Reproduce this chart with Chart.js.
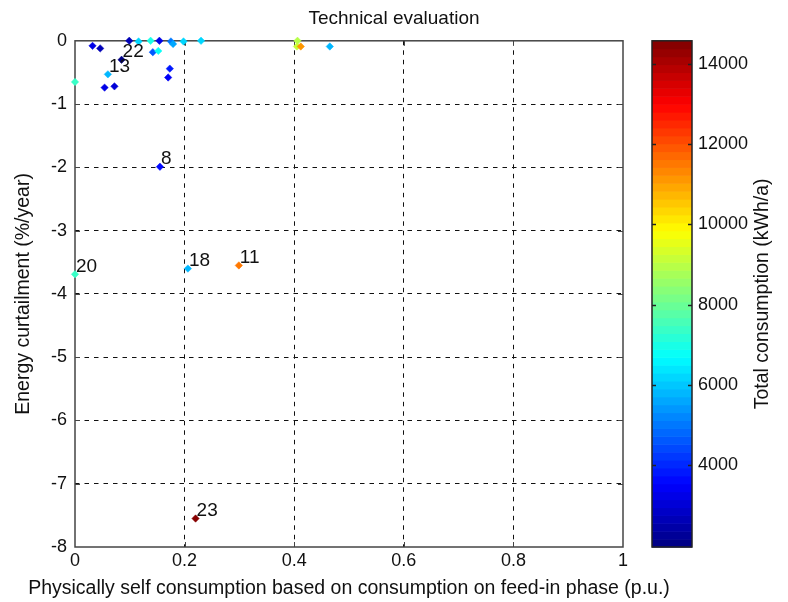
<!DOCTYPE html>
<html><head><meta charset="utf-8">
<script src="https://cdn.jsdelivr.net/npm/chart.js@4/dist/chart.umd.min.js"></script>
<style>html,body{margin:0;padding:0;background:#fff;overflow:hidden}#wrap{width:788px;height:602px;position:relative}</style>
</head><body><div id="wrap"><canvas id="c" width="788" height="602"></canvas></div>
<script>
// Physically self consumption (p.u.)
const selfConsumption = [0.000, 0.032, 0.046, 0.099, 0.116, 0.138, 0.154, 0.175, 0.179, 0.198, 0.230, 0.142, 0.152, 0.085, 0.060, 0.054, 0.072, 0.173, 0.170, 0.406, 0.405, 0.412, 0.465, 0.000, 0.206, 0.299, 0.155, 0.220];
// Energy curtailment (%/year)
const curtailment = [-0.65, -0.08, -0.12, 0.00, -0.01, 0.00, 0.00, -0.01, -0.05, -0.01, 0.00, -0.18, -0.16, -0.30, -0.53, -0.74, -0.72, -0.44, -0.58, 0.00, -0.09, -0.09, -0.09, -3.69, -3.60, -3.55, -1.99, -7.55];
// Total consumption (kWh/a)
const totalConsumption = [7300, 3300, 2700, 2700, 6100, 7000, 3300, 5000, 5700, 6100, 6200, 4600, 6700, 1960, 5900, 3300, 3000, 3800, 3400, 8900, 9100, 11200, 5800, 7400, 5900, 11500, 3600, 14500];
const pointLabels = ['', '', '', '', '', '', '', '', '', '', '', '', '', '22', '13', '', '', '', '', '', '', '', '', '20', '18', '11', '8', '23'];
const xTicks = [0, 0.2, 0.4, 0.6, 0.8, 1];
const yTicks = [-8, -7, -6, -5, -4, -3, -2, -1, 0];
const colorbarTicks = [4000, 6000, 8000, 10000, 12000, 14000];
const colorbarRange = [1960, 14570];

const FONT = "'Liberation Sans', Arial, sans-serif";
const TXT = '#111';
const X_TITLE = 'Physically self consumption based on consumption on feed-in phase (p.u.)';
const CB_TITLE = 'Total consumption (kWh/a)';

function jet(t) {
  const c = x => Math.max(0, Math.min(1, x));
  const r = c(1.5 - Math.abs(4 * t - 3)), g = c(1.5 - Math.abs(4 * t - 2)), b = c(1.5 - Math.abs(4 * t - 1));
  return 'rgb(' + Math.round(r * 255) + ',' + Math.round(g * 255) + ',' + Math.round(b * 255) + ')';
}
function colorFor(v) {
  const lo = colorbarRange[0], hi = colorbarRange[1];
  let i = Math.floor((v - lo) / (hi - lo) * 64);
  i = Math.max(0, Math.min(63, i));
  return jet((i + 0.5) / 64);
}

const pointColors = totalConsumption.map(colorFor);
const points = selfConsumption.map((x, i) => ({x: x, y: curtailment[i]}));

const boxPlugin = {
  id: 'box',
  beforeDatasetsDraw(chart) {
    const ca = chart.chartArea, ctx = chart.ctx, sx = chart.scales.x, sy = chart.scales.y;
    ctx.save();
    ctx.strokeStyle = '#444';
    ctx.lineWidth = 1.5;
    ctx.strokeRect(ca.left, ca.top, ca.right - ca.left, ca.bottom - ca.top);
    ctx.lineWidth = 1;
    xTicks.slice(1, -1).forEach(v => {
      const x = Math.round(sx.getPixelForValue(v)) + 0.5;
      ctx.beginPath(); ctx.moveTo(x, ca.bottom); ctx.lineTo(x, ca.bottom - 5); ctx.stroke();
      ctx.beginPath(); ctx.moveTo(x, ca.top); ctx.lineTo(x, ca.top + 5); ctx.stroke();
    });
    yTicks.slice(1, -1).forEach(v => {
      const y = Math.round(sy.getPixelForValue(v)) + 0.5;
      ctx.beginPath(); ctx.moveTo(ca.left, y); ctx.lineTo(ca.left + 5, y); ctx.stroke();
      ctx.beginPath(); ctx.moveTo(ca.right, y); ctx.lineTo(ca.right - 5, y); ctx.stroke();
    });
    ctx.font = '19.5px ' + FONT;
    ctx.fillStyle = TXT;
    ctx.textAlign = 'center';
    ctx.textBaseline = 'middle';
    ctx.fillText(X_TITLE, (ca.left + ca.right) / 2, chart.height - 13);
    ctx.restore();
  }
};

const labelPlugin = {
  id: 'pointLabels',
  afterDatasetsDraw(chart) {
    const ctx = chart.ctx, meta = chart.getDatasetMeta(0);
    ctx.save();
    ctx.font = '19px ' + FONT;
    ctx.fillStyle = TXT;
    ctx.textAlign = 'left';
    ctx.textBaseline = 'middle';
    meta.data.forEach((el, i) => {
      if (pointLabels[i]) ctx.fillText(pointLabels[i], el.x + 1, el.y - 8);
    });
    ctx.restore();
  }
};

const colorbarPlugin = {
  id: 'colorbar',
  afterDraw(chart) {
    const s = chart.scales.cb, ca = chart.chartArea, ctx = chart.ctx;
    const left = ca.right + 29, w = 40, n = 64;
    const lo = colorbarRange[0], hi = colorbarRange[1];
    ctx.save();
    for (let i = 0; i < n; i++) {
      const y0 = s.getPixelForValue(lo + (hi - lo) * i / n);
      const y1 = s.getPixelForValue(lo + (hi - lo) * (i + 1) / n);
      ctx.fillStyle = jet((i + 0.5) / n);
      ctx.fillRect(left, y1, w, y0 - y1 + 0.6);
    }
    ctx.strokeStyle = '#222';
    ctx.lineWidth = 1.5;
    ctx.strokeRect(left, s.top, w, s.bottom - s.top);
    ctx.lineWidth = 1.5;
    colorbarTicks.forEach(v => {
      const y = Math.round(s.getPixelForValue(v)) + 0.5;
      ctx.beginPath(); ctx.moveTo(left + w - 4, y); ctx.lineTo(left + w, y); ctx.stroke();
      ctx.beginPath(); ctx.moveTo(left, y); ctx.lineTo(left + 4, y); ctx.stroke();
    });
    ctx.translate(ca.right + 140, (s.top + s.bottom) / 2);
    ctx.rotate(-Math.PI / 2);
    ctx.font = '19.5px ' + FONT;
    ctx.fillStyle = TXT;
    ctx.textAlign = 'center';
    ctx.textBaseline = 'middle';
    ctx.fillText(CB_TITLE, 0, 0);
    ctx.restore();
  }
};

Chart.defaults.font.family = FONT;
Chart.defaults.font.size = 18;
Chart.defaults.color = TXT;

new Chart(document.getElementById('c'), {
  type: 'scatter',
  data: {
    datasets: [{
      data: points,
      clip: false,
      pointStyle: 'rectRot',
      pointRadius: 3.7,
      pointBorderWidth: 0.5,
      pointBackgroundColor: pointColors,
      pointBorderColor: pointColors
    }]
  },
  options: {
    responsive: false,
    animation: false,
    devicePixelRatio: 1,
    layout: {padding: 0},
    plugins: {
      legend: {display: false},
      tooltip: {enabled: false},
      title: {
        display: true,
        text: 'Technical evaluation',
        color: TXT,
        font: {size: 19, weight: 'normal', family: FONT},
        padding: {top: 7, bottom: 11}
      }
    },
    scales: {
      x: {
        type: 'linear', min: 0, max: 1,
        afterBuildTicks: s => { s.ticks = xTicks.map(v => ({value: v})); },
        afterFit: s => { s.height = 55; },
        ticks: {padding: 3, maxRotation: 0, autoSkip: false, callback: v => String(Math.round(v * 10) / 10)},
        grid: {drawTicks: false, lineWidth: 1, color: ctx => (ctx.index === 0 || ctx.index === xTicks.length - 1) ? 'rgba(0,0,0,0)' : '#111'},
        border: {display: false, dash: [4.5, 5]},
        title: {display: false}
      },
      y: {
        type: 'linear', min: -8, max: 0,
        afterBuildTicks: s => { s.ticks = yTicks.map(v => ({value: v})); },
        afterFit: s => { s.width = 75; },
        ticks: {padding: 8, callback: v => String(v)},
        grid: {drawTicks: false, lineWidth: 1, color: ctx => (ctx.index === 0 || ctx.index === yTicks.length - 1) ? 'rgba(0,0,0,0)' : '#111'},
        border: {display: false, dash: [4.5, 5]},
        title: {display: true, text: 'Energy curtailment (%/year)', font: {size: 19.5}, padding: {top: 12, bottom: 4}}
      },
      cb: {
        type: 'linear', position: 'right',
        min: colorbarRange[0], max: colorbarRange[1],
        afterBuildTicks: s => { s.ticks = colorbarTicks.map(v => ({value: v})); },
        afterFit: s => { s.width = 165; s.paddingTop = 0; s.paddingBottom = 0; },
        ticks: {padding: 75, callback: v => String(v)},
        grid: {display: false, drawTicks: false},
        border: {display: false}
      }
    }
  },
  plugins: [boxPlugin, labelPlugin, colorbarPlugin]
});
</script>
</body></html>
